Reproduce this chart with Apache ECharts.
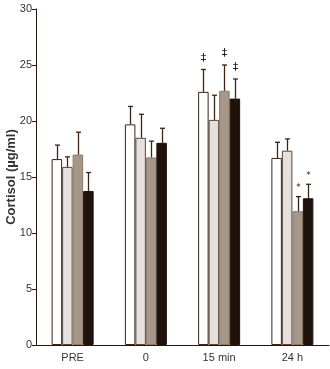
<!DOCTYPE html>
<html><head><meta charset="utf-8">
<script src="https://cdn.jsdelivr.net/npm/echarts@6/dist/echarts.min.js"></script>
<style>html,body{margin:0;padding:0;background:#fff}#c{width:330px;height:369px}</style>
</head><body><div id="c"></div>
<script>
var categories = ['PRE', '0', '15 min', '24 h'];
var yTicks = [0, 5, 10, 15, 20, 25, 30];
var meanA = [16.6, 19.7, 22.6, 16.7];
var meanB = [15.9, 18.5, 20.1, 17.35];
var meanC = [17.0, 16.75, 22.7, 11.95];
var meanD = [13.75, 18.05, 22.0, 13.1];
var errA = [1.25, 1.6, 2.0, 1.4];
var errB = [0.9, 2.1, 2.2, 1.05];
var errC = [2.0, 1.45, 2.3, 1.3];
var errD = [1.65, 1.3, 1.75, 1.25];
var markA = ['', '', '‡', ''];
var markB = ['', '', '', ''];
var markC = ['', '', '‡', '*'];
var markD = ['', '', '‡', '*'];

var BW = 10.5;
var fills = ['#ffffff', '#e6e0dc', '#a69788', '#1f120b'];
var borders = ['#3a2416', '#5a463a', '#8a7a6c', '#1f120b'];
var errColor = '#3a2416';
var means = [meanA, meanB, meanC, meanD];
var errs = [errA, errB, errC, errD];
var marks = [markA, markB, markC, markD];
var names = ['A', 'B', 'C', 'D'];

var series = [];
means.forEach(function (m, i) {
  series.push({
    type: 'bar', name: names[i], data: m, barWidth: BW, barGap: '0%',
    itemStyle: { color: fills[i], borderColor: borders[i], borderWidth: 1 },
    z: 2
  });
});
means.forEach(function (m, i) {
  var d = m.map(function (v, k) { return [k, v, v + errs[i][k], marks[i][k]]; });
  series.push({
    type: 'custom', data: d, z: 3,
    renderItem: function (params, api) {
      var k = api.value(0);
      var top = api.coord([k, api.value(1)]);
      var hi = api.coord([k, api.value(2)]);
      var x = Math.round(top[0] + (i - 1.5) * BW) + 0.5;
      var ch = [
        { type: 'line', shape: { x1: x, y1: top[1], x2: x, y2: hi[1] }, style: { stroke: errColor, lineWidth: 1.3 } },
        { type: 'line', shape: { x1: x - 2.5, y1: hi[1], x2: x + 2.5, y2: hi[1] }, style: { stroke: errColor, lineWidth: 1.3 } }
      ];
      var mk = d[params.dataIndex][3];
      if (mk) {
        ch.push({ type: 'text', style: { text: mk, x: x, y: hi[1] - (mk === '*' ? 4 : 6), align: 'center', verticalAlign: 'bottom', fill: '#2a1a10', font: (mk === '*' ? '9px' : '11px') + ' "DejaVu Sans", sans-serif' } });
      }
      return { type: 'group', children: ch };
    }
  });
});

var chart = echarts.init(document.getElementById('c'), null, { renderer: 'canvas' });
chart.setOption({
  animation: false,
  grid: { left: 36, right: 1, top: 9, bottom: 24, outerBoundsMode: 'none', containLabel: false },
  xAxis: {
    type: 'category', data: categories,
    axisLine: { lineStyle: { color: '#2a1508', width: 1 } },
    axisTick: { show: false },
    axisLabel: { color: '#333', fontSize: 11, fontFamily: 'Liberation Sans, Arial, sans-serif', margin: 7 }
  },
  yAxis: {
    type: 'value', min: yTicks[0], max: yTicks[yTicks.length - 1], interval: 5,
    name: 'Cortisol (µg/ml)', nameLocation: 'middle', nameGap: 18, nameMoveOverlap: false,
    nameTextStyle: { color: '#333', fontSize: 13, fontWeight: 'bold', fontFamily: 'Liberation Sans, Arial, sans-serif' },
    axisLine: { show: true, lineStyle: { color: '#2a1508', width: 1 } },
    axisTick: { show: true, length: 4, lineStyle: { color: '#2a1508' } },
    splitLine: { show: false },
    axisLabel: { color: '#333', fontSize: 11, fontFamily: 'Liberation Sans, Arial, sans-serif', margin: 4 }
  },
  series: series
});
</script></body></html>
